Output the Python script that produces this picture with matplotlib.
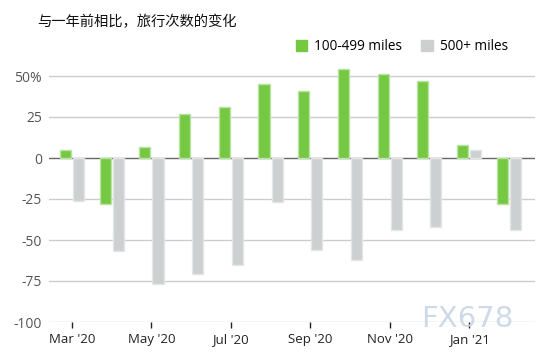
import matplotlib
matplotlib.use("Agg")
import matplotlib.pyplot as plt
import numpy as np

plt.rcParams["font.family"] = ["Noto Sans CJK SC", "DejaVu Sans"]

# -----------------------
# Data
# -----------------------
months = ["Mar '20", "Apr '20", "May '20", "Jun '20", "Jul '20", "Aug '20",
          "Sep '20", "Oct '20", "Nov '20", "Dec '20", "Jan '21", "Feb '21"]
short_trips = [5, -28, 7, 27, 31, 45, 41, 54, 51, 47, 8, -28]
long_trips = [-26, -57, -77, -71, -65, -27, -56, -62, -44, -42, 5, -44]
yticks = [-100, -75, -50, -25, 0, 25, 50]
ytick_labels = ["-100", "-75", "-50", "-25", "0", "25", "50%"]

title = "与一年前相比，旅行次数的变化"
GREEN = "#76c843"
GREEN_EDGE = "#b7e4a2"
GRAY = "#cdd0d0"
GRAY_EDGE = "#e4e6e6"

# -----------------------
# Plot
# -----------------------
fig = plt.figure(figsize=(5.47, 3.58), dpi=100)
ax = fig.add_axes([49 / 547, 1 - 322 / 358, (535 - 49) / 547, (322 - 59.6) / 358])

x = np.arange(len(months))
w = 0.28
off = 0.165
ax.bar(x - off, short_trips, width=w, color=GREEN, edgecolor=GREEN_EDGE,
       linewidth=1, label="100-499 miles", zorder=3)
ax.bar(x + off, long_trips, width=w, color=GRAY, edgecolor=GRAY_EDGE,
       linewidth=1, label="500+ miles", zorder=3)

ax.set_xlim(-0.58, 11.66)
ax.set_ylim(-100, 60)
ax.set_yticks(yticks)
ax.set_yticklabels(ytick_labels)
for y in yticks:
    ax.axhline(y, color="#666666" if y == 0 else "#cccccc", lw=1, zorder=1)

ax.set_xticks(x[::2])
ax.set_xticklabels(months[::2])
for s in ax.spines.values():
    s.set_visible(False)

ax.tick_params(axis="y", length=0, pad=5, labelsize=10, labelcolor="#555555")
ax.tick_params(axis="x", length=4, width=1, color="#222222", pad=4,
               labelsize=9.5, labelcolor="#222222")
for lab in ax.get_xticklabels() + ax.get_yticklabels():
    lab.set_family(["Open Sans", "DejaVu Sans"])

fig.text(37 / 547, 1 - 22 / 358, title, fontsize=10.3, va="center", ha="left",
         color="#111111")

leg = fig.legend(loc="center right", bbox_to_anchor=(520 / 547, 1 - 47 / 358),
                 ncol=2, frameon=False, handlelength=0.85, handleheight=0.85,
                 handletextpad=0.5, columnspacing=1.4,
                 prop={"family": ["Open Sans", "DejaVu Sans"], "size": 9.8})
for h in leg.legend_handles:
    h.set_edgecolor(h.get_facecolor())

# watermark
fig.text(514 / 547, 1 - 319 / 358, "FX678", fontsize=21, ha="right", va="center",
         color="#c9d6e6", alpha=0.9, family=["DejaVu Sans"])

plt.savefig("out.png", dpi=100)
